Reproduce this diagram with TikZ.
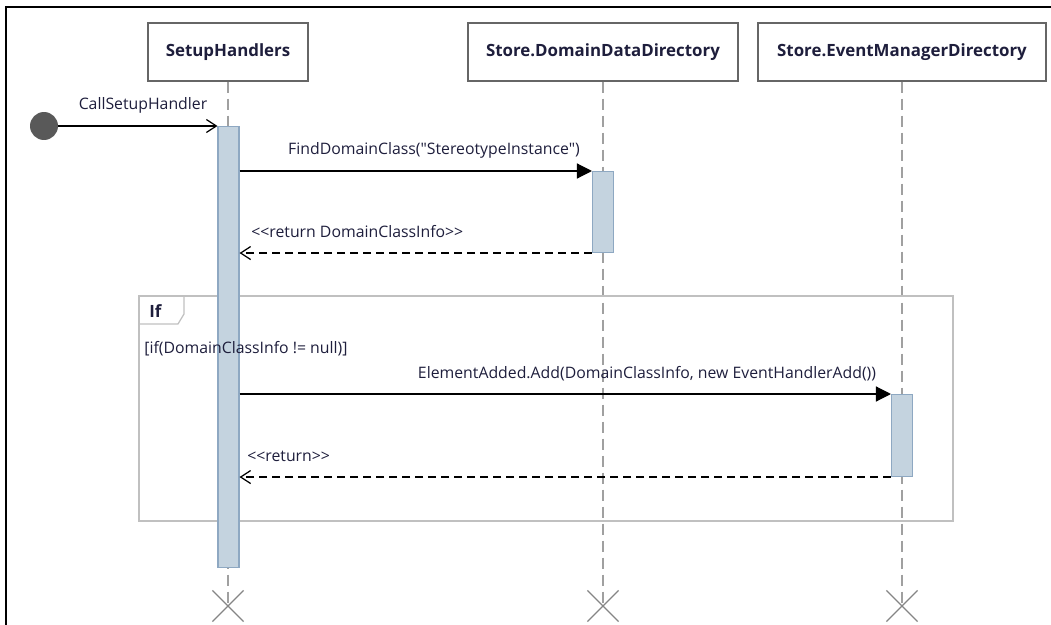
\documentclass[tikz,border=0pt]{standalone}
\usepackage{fontspec}
\setmainfont{Open Sans}[Ligatures=TeXOff]
\usetikzlibrary{arrows.meta,shapes.misc}
\definecolor{headgray}{HTML}{666666}
\definecolor{lifegray}{HTML}{A0A0A0}
\definecolor{actfill}{HTML}{C4D3DF}
\definecolor{actline}{HTML}{8EA8C2}
\definecolor{fraggray}{HTML}{C0C0C0}
\definecolor{txt}{HTML}{1E1E3C}
\tikzset{
  head/.style={draw=headgray,line width=0.8pt,fill=white,minimum height=1.16cm,
    font=\fontsize{9.6}{11}\selectfont\bfseries,text=txt},
  life/.style={draw=lifegray,line width=0.6pt,dash pattern=on 0.22cm off 0.12cm},
  act/.style={draw=actline,fill=actfill,line width=0.6pt,minimum width=0.42cm,inner sep=0pt,anchor=north},
  kill/.style={draw=headgray!80,cross out,line width=0.7pt,minimum size=0.6cm,inner sep=0pt},
  lbl/.style={font=\fontsize{9}{11}\selectfont,text=txt,inner sep=0pt},
  call/.style={line width=0.7pt,-{Triangle[length=0.3cm,width=0.3cm]}},
  back/.style={line width=0.7pt,dash pattern=on 0.16cm off 0.1cm,-{Straight Barb[length=0.2cm,width=0.26cm]}},
}
\begin{document}
\begin{tikzpicture}[x=0.02cm,y=-0.02cm]
	\useasboundingbox (0,0) rectangle (1051,625);
	% outer border (top and left only)
	\draw[line width=1.1pt](1051,7)--(6,7)--(6,625);
	% lifeline heads
	\node[head,minimum width=3.2cm](sh)at(228,52){SetupHandlers};
	\node[head,minimum width=5.4cm](dd)at(603,52){Store.DomainDataDirectory};
	\node[head,minimum width=5.76cm](em)at(902,52){Store.EventManagerDirectory};
	% ends
	\node[kill](xsh)at(228,606){};
	\node[kill](xdd)at(603,606){};
	\node[kill](xem)at(902,606){};
	\draw[life](sh.south)--(xsh.center);
	\draw[life](dd.south)--(xdd.center);
	\draw[life](em.south)--(xem.center);
	% if fragment
	\draw[fraggray,line width=0.7pt](139,296)rectangle(953,521);
	\draw[fraggray,line width=0.7pt](139,324)--(178,324)--(184,314)--(184,296);
	\node[lbl,anchor=west,font=\fontsize{9.6}{11}\selectfont\bfseries](iftag)at(149,311){If};
	% activations
	\node[act,minimum height=8.82cm](ash)at(228.5,126){};
	\node[act,minimum height=1.62cm](add)at(603,171){};
	\node[act,minimum height=1.64cm](aem)at(902,394){};
	\node[lbl,anchor=west](guard)at(144,349){[if(DomainClassInfo != null)]};
	% messages
	\node[circle,fill=black!65,minimum size=0.56cm,inner sep=0pt](start)at(44,126){};
	\draw[line width=0.7pt,-{Straight Barb[length=0.2cm,width=0.26cm]}](start)--(ash.north west);
	\node[lbl](m1)at(143,105){CallSetupHandler};
	\draw[call](ash.east|-add.north west)--(add.north west);
	\node[lbl](m2)at(434,150){FindDomainClass("StereotypeInstance")};
	\draw[back](add.south west)--(ash.east|-add.south west);
	\node[lbl,anchor=west](m3)at(251,232){{<}{<}return DomainClassInfo{>}{>}};
	\draw[call](ash.east|-aem.north west)--(aem.north west);
	\node[lbl](m4)at(647,374){ElementAdded.Add(DomainClassInfo, new EventHandlerAdd())};
	\draw[back](aem.south west)--(ash.east|-aem.south west);
	\node[lbl,anchor=west](m5)at(247,456){{<}{<}return{>}{>}};
\end{tikzpicture}
\end{document}
